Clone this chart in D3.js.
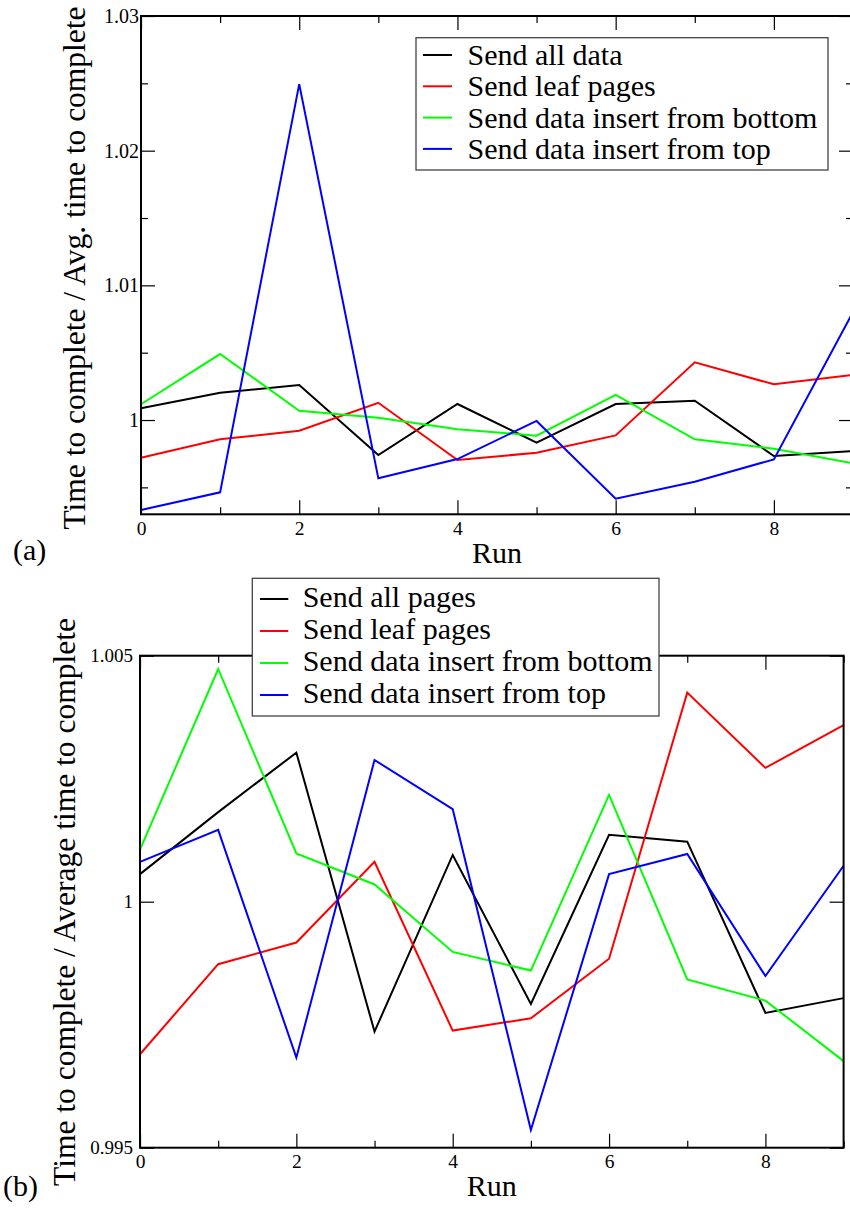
<!DOCTYPE html>
<html>
<head>
<meta charset="utf-8">
<script src="https://cdn.jsdelivr.net/npm/d3@7"></script>
<style>
  html, body { margin: 0; padding: 0; background: #fff; }
  svg { display: block; }
  svg text { font-family: "Liberation Serif", Tinos, "Times New Roman", Times, "Nimbus Roman", "DejaVu Serif", serif !important; fill: #000; }
</style>
</head>
<body>
<svg id="chart" width="850" height="1209"></svg>
<script>
// Runs on the x axis
const runs = [0, 1, 2, 3, 4, 5, 6, 7, 8, 9];

// Panel (a): time to complete / avg. time to complete
const aSendAll      = [1.00087, 1.00203, 1.00260, 0.99740, 1.00119, 0.99832, 1.00119, 1.00143, 0.99733, 0.99770];
const aSendLeaf     = [0.99720, 0.99857, 0.99920, 1.00128, 0.99703, 0.99757, 0.99886, 1.00428, 1.00265, 1.00336];
const aInsertBottom = [1.00117, 1.00490, 1.00069, 1.00017, 0.99931, 0.99884, 1.00186, 0.99857, 0.99787, 0.99678];
const aInsertTop    = [0.99332, 0.99463, 1.02494, 0.99567, 0.99710, 0.99993, 0.99416, 0.99542, 0.99708, 1.00802];
const aLegend = ["Send all data", "Send leaf pages", "Send data insert from bottom", "Send data insert from top"];

// Panel (b): time to complete / average time to complete
const bSendAll      = [1.00056, 1.00182, 1.00303, 0.99736, 1.00095, 0.99792, 1.00136, 1.00122, 0.99774, 0.99804];
const bSendLeaf     = [0.99690, 0.99873, 0.99917, 1.00081, 0.99738, 0.99763, 0.99884, 1.00425, 1.00272, 1.00359];
const bInsertBottom = [1.00106, 1.00473, 1.00098, 1.00035, 0.99898, 0.99860, 1.00217, 0.99842, 0.99799, 0.99676];
const bInsertTop    = [1.00081, 1.00146, 0.99683, 1.00288, 1.00188, 0.99536, 1.00056, 1.00097, 0.99849, 1.00073];
const bLegend = ["Send all pages", "Send leaf pages", "Send data insert from bottom", "Send data insert from top"];

// Tick values and labels
const xMajorTicks = [0, 2, 4, 6, 8];
const xMinorTicks = [1, 3, 5, 7, 9];
const aYMajorTicks = [1, 1.01, 1.02, 1.03];
const aYMajorLabels = ["1", "1.01", "1.02", "1.03"];
const aYMinorTicks = [0.995, 1.005, 1.015, 1.025];
const bYMajorTicks = [0.995, 1, 1.005];
const bYMajorLabels = ["0.995", "1", "1.005"];
const bYMinorTicks = [];

const seriesColors = ["#000000", "#ff0000", "#00ff00", "#0000ff"];
const serifFont = '"Liberation Serif", Tinos, "Times New Roman", Times, "Nimbus Roman", "DejaVu Serif", serif';

const svg = d3.select("#chart");

function drawPanel(cfg) {
  const g = svg.append("g").attr("font-family", serifFont);
  const x = d3.scaleLinear().domain([0, 9]).range([cfg.left, cfg.right]);
  const y = d3.scaleLinear().domain(cfg.yDomain).range([cfg.bottom, cfg.top]);

  // series lines
  const line = d3.line().x((d, i) => x(runs[i])).y(d => y(d));
  cfg.series.forEach((s, i) => {
    g.append("path")
      .datum(s)
      .attr("d", line)
      .attr("fill", "none")
      .attr("stroke", seriesColors[i])
      .attr("stroke-width", 2)
      .attr("stroke-linejoin", "miter");
  });

  // inward ticks on all four sides
  const tickStyle = sel => {
    sel.attr("font-family", serifFont);
    sel.select(".domain").remove();
    sel.selectAll(".tick line").attr("stroke", "#000").attr("stroke-width", 1.2);
  };
  const labelStyle = (sel, size) => sel.selectAll(".tick text")
    .attr("font-size", size).attr("font-family", serifFont).attr("fill", "#000");

  const xBottom = g.append("g").attr("transform", `translate(0,${cfg.bottom})`)
    .call(d3.axisBottom(x).tickValues(xMajorTicks).tickSize(-14).tickPadding(6).tickFormat(d3.format("d")));
  tickStyle(xBottom);
  labelStyle(xBottom, cfg.xTickFont);
  xBottom.selectAll(".tick text").attr("dy", null).attr("y", cfg.xTickBaseline - cfg.bottom);

  const xBottomMinor = g.append("g").attr("transform", `translate(0,${cfg.bottom})`)
    .call(d3.axisBottom(x).tickValues(xMinorTicks).tickSize(-7).tickFormat(""));
  tickStyle(xBottomMinor);

  const xTop = g.append("g").attr("transform", `translate(0,${cfg.top})`)
    .call(d3.axisTop(x).tickValues(xMajorTicks).tickSize(-14).tickFormat(""));
  tickStyle(xTop);
  const xTopMinor = g.append("g").attr("transform", `translate(0,${cfg.top})`)
    .call(d3.axisTop(x).tickValues(xMinorTicks).tickSize(-7).tickFormat(""));
  tickStyle(xTopMinor);

  const yLeft = g.append("g").attr("transform", `translate(${cfg.left},0)`)
    .call(d3.axisLeft(y).tickValues(cfg.yMajor).tickSize(-14).tickPadding(cfg.yTickPad)
      .tickFormat((d, i) => cfg.yLabels[i]));
  tickStyle(yLeft);
  labelStyle(yLeft, cfg.yTickFont);

  const yLeftMinor = g.append("g").attr("transform", `translate(${cfg.left},0)`)
    .call(d3.axisLeft(y).tickValues(cfg.yMinor).tickSize(-7).tickFormat(""));
  tickStyle(yLeftMinor);

  const yRight = g.append("g").attr("transform", `translate(${cfg.right},0)`)
    .call(d3.axisRight(y).tickValues(cfg.yMajor).tickSize(-14).tickFormat(""));
  tickStyle(yRight);
  const yRightMinor = g.append("g").attr("transform", `translate(${cfg.right},0)`)
    .call(d3.axisRight(y).tickValues(cfg.yMinor).tickSize(-7).tickFormat(""));
  tickStyle(yRightMinor);

  // frame
  g.append("rect")
    .attr("x", cfg.left).attr("y", cfg.top)
    .attr("width", cfg.right - cfg.left).attr("height", cfg.bottom - cfg.top)
    .attr("fill", "none").attr("stroke", "#000").attr("stroke-width", 2);

  // axis titles
  g.append("text")
    .attr("x", (cfg.left + cfg.right) / 2).attr("y", cfg.xTitleBaseline)
    .attr("text-anchor", "middle").attr("font-size", 30)
    .text("Run");

  g.append("text")
    .attr("transform", `translate(${cfg.yTitleX},${cfg.yTitleY}) rotate(-90)`)
    .attr("text-anchor", "middle").attr("font-size", 31.5)
    .text(cfg.yTitle);

  // panel tag
  g.append("text")
    .attr("x", cfg.tagX).attr("y", cfg.tagBaseline)
    .attr("font-size", 30)
    .text(cfg.tag);

  // legend
  const lg = cfg.legend;
  g.append("rect")
    .attr("x", lg.x0).attr("y", lg.y0)
    .attr("width", lg.x1 - lg.x0).attr("height", lg.y1 - lg.y0)
    .attr("fill", "#fff").attr("stroke", "#444").attr("stroke-width", 1.3);
  cfg.legendLabels.forEach((label, i) => {
    const ly = lg.firstRow + i * lg.step;
    g.append("line")
      .attr("x1", lg.lineX0).attr("x2", lg.lineX1)
      .attr("y1", ly).attr("y2", ly)
      .attr("stroke", seriesColors[i]).attr("stroke-width", 2);
    g.append("text")
      .attr("x", lg.textX).attr("y", ly + lg.baseOffset)
      .attr("font-size", 30)
      .text(label);
  });
}

drawPanel({
  left: 141, right: 853, top: 16, bottom: 514.3,
  yDomain: [0.993, 1.03],
  yMajor: aYMajorTicks, yLabels: aYMajorLabels, yMinor: aYMinorTicks,
  yTickFont: 20, yTickPad: 2, xTickFont: 19.5, xTickBaseline: 535,
  xTitleBaseline: 563, yTitleX: 85, yTitleY: 268,
  yTitle: "Time to complete / Avg. time to complete",
  tag: "(a)", tagX: 13, tagBaseline: 560,
  series: [aSendAll, aSendLeaf, aInsertBottom, aInsertTop],
  legendLabels: aLegend,
  legend: { x0: 416, x1: 828, y0: 37.7, y1: 170, lineX0: 423, lineX1: 452, textX: 467.5,
            firstRow: 55, step: 31.3, baseOffset: 10 }
});

drawPanel({
  left: 140, right: 843.6, top: 655.7, bottom: 1147.7,
  yDomain: [0.995, 1.005],
  yMajor: bYMajorTicks, yLabels: bYMajorLabels, yMinor: bYMinorTicks,
  yTickFont: 19, yTickPad: 7, xTickFont: 19.5, xTickBaseline: 1168.5,
  xTitleBaseline: 1196, yTitleX: 75, yTitleY: 902,
  yTitle: "Time to complete / Average time to complete",
  tag: "(b)", tagX: 3, tagBaseline: 1196,
  series: [bSendAll, bSendLeaf, bInsertBottom, bInsertTop],
  legendLabels: bLegend,
  legend: { x0: 252.3, x1: 659, y0: 578.3, y1: 716, lineX0: 260, lineX1: 288.3, textX: 302.7,
            firstRow: 599, step: 32, baseOffset: 8 }
});
</script>
</body>
</html>
